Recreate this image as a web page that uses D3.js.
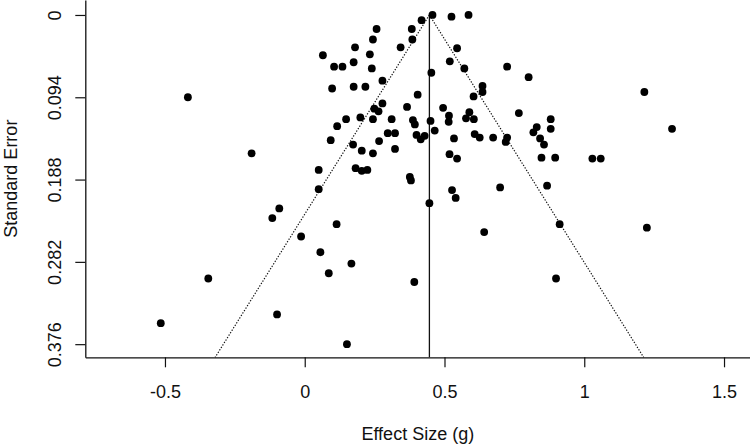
<!DOCTYPE html>
<html>
<head>
<meta charset="utf-8">
<script src="https://cdn.jsdelivr.net/npm/d3@7"></script>
<style>
  html, body { margin: 0; padding: 0; background: #fff; }
  svg { display: block; }
  text { font-family: "Liberation Sans", Arial, Helvetica, sans-serif; fill: #111; }
</style>
</head>
<body>
<svg id="chart" width="750" height="447"></svg>
<script>
// ---- data ----
const effectSize = [
  -0.418, -0.190, 0.457, 0.525, 0.586, 0.418, 0.257, 0.383, 0.244, 0.385,
  0.180, 0.343, 0.545, 0.065, 0.233, 0.175, 0.519, 0.105, 0.135, 0.240,
  0.571, 0.724, 0.453, 0.801, 0.278, 0.098, 0.175, 0.217, 0.636, 0.636,
  0.604, 0.404, 0.278, 0.249, 0.264, 0.366, 0.495, 0.766, 0.589, 0.516,
  0.148, 0.199, 0.244, 0.311, 0.387, 0.577, 0.605, 0.515, 0.450, 0.394,
  0.116, 0.465, 0.297, 0.323, 0.400, 0.429, 0.415, 0.093, 0.266, 0.534,
  0.608, 0.626, 0.674, 0.724, 0.719, 0.173, 0.204, 0.323, 0.244, 0.518,
  0.545, 0.050, 0.182, 0.204, 0.224, 0.376, 0.380,
  1.215, 0.880, 0.830, 0.818, 0.880, 1.314, 0.842, 0.856, 0.847, 0.896,
  1.029, 1.059,
  0.699, 0.867, -0.091, -0.116, -0.013, -0.345, -0.099, -0.515, 0.050, 0.527,
  0.540, 0.446, 0.114, 0.642, 0.056, 0.167, 0.086, 0.392, 0.151, 0.912,
  1.224, 0.899
];
const standardError = [
  0.094, 0.158, 0.000, 0.002, 0.000, 0.006, 0.016, 0.016, 0.028, 0.028,
  0.037, 0.037, 0.038, 0.046, 0.045, 0.054, 0.053, 0.059, 0.059, 0.061,
  0.061, 0.059, 0.066, 0.071, 0.075, 0.084, 0.082, 0.082, 0.081, 0.088,
  0.093, 0.091, 0.101, 0.107, 0.110, 0.105, 0.106, 0.112, 0.111, 0.115,
  0.119, 0.117, 0.119, 0.119, 0.120, 0.118, 0.119, 0.122, 0.121, 0.125,
  0.127, 0.132, 0.135, 0.135, 0.137, 0.138, 0.142, 0.143, 0.144, 0.141,
  0.136, 0.140, 0.140, 0.140, 0.145, 0.148, 0.155, 0.153, 0.158, 0.159,
  0.164, 0.177, 0.175, 0.178, 0.177, 0.185, 0.189,
  0.088, 0.119, 0.128, 0.134, 0.130, 0.130, 0.141, 0.148, 0.163, 0.163,
  0.164, 0.164,
  0.197, 0.195, 0.221, 0.232, 0.253, 0.301, 0.342, 0.352, 0.199, 0.200,
  0.209, 0.215, 0.239, 0.248, 0.271, 0.284, 0.295, 0.305, 0.376, 0.239,
  0.243, 0.301
];
const pooledEffect = 0.446;      // vertical reference line
const funnelMaxSE = 0.391;       // funnel drawn down to the bottom of the axis
const zCrit = 1.96;

const xTickValues = [-0.5, 0, 0.5, 1, 1.5];
const xTickLabels = ["-0.5", "0", "0.5", "1", "1.5"];
const yTickValues = [0, 0.094, 0.188, 0.282, 0.376];
const yTickLabels = ["0", "0.094", "0.188", "0.282", "0.376"];
const xDomain = [-0.785, 1.594];
const yDomain = [-0.0171, 0.391];
const xTitle = "Effect Size (g)";
const yTitle = "Standard Error";

// ---- drawing ----
const svg = d3.select("#chart");
const plotLeft = 85.3, plotRight = 750.3, plotTop = 0, plotBottom = 357.3;

const x = d3.scaleLinear().domain(xDomain).range([plotLeft, plotRight]);
const y = d3.scaleLinear().domain(yDomain).range([plotTop, plotBottom]);

const points = effectSize.map((e, i) => ({ e, se: standardError[i] }));

// funnel (dotted) lines
const funnel = [
  [[pooledEffect, 0], [pooledEffect - zCrit * funnelMaxSE, funnelMaxSE]],
  [[pooledEffect, 0], [pooledEffect + zCrit * funnelMaxSE, funnelMaxSE]]
];
const line = d3.line().x(d => x(d[0])).y(d => y(d[1]));
svg.append("g").selectAll("path").data(funnel).join("path")
  .attr("d", line)
  .attr("fill", "none")
  .attr("stroke", "#111")
  .attr("stroke-width", 1.2)
  .attr("stroke-dasharray", "1.3,1.6");

// vertical pooled-effect line
svg.append("path")
  .attr("d", line([[pooledEffect, 0], [pooledEffect, yDomain[1]]]))
  .attr("stroke", "#111")
  .attr("stroke-width", 1.3)
  .attr("fill", "none");

// points
svg.append("g").selectAll("circle").data(points).join("circle")
  .attr("cx", d => x(d.e))
  .attr("cy", d => y(d.se))
  .attr("r", 3.9)
  .attr("fill", "#000");

// x axis
const xAxis = d3.axisBottom(x)
  .tickValues(xTickValues)
  .tickFormat((d, i) => xTickLabels[i])
  .tickSizeInner(10)
  .tickSizeOuter(0);
const gx = svg.append("g").attr("transform", `translate(0,${plotBottom})`).call(xAxis);
gx.select(".domain").attr("stroke", "#111").attr("stroke-width", 1.3);
gx.selectAll(".tick line").attr("stroke", "#111").attr("stroke-width", 1.2);
gx.selectAll(".tick text")
  .attr("y", 40.3).attr("dy", null)
  .attr("font-size", 18)
  .attr("font-family", "'Liberation Sans', Arial, sans-serif")
  .attr("fill", "#111");

// y axis
const yAxis = d3.axisLeft(y)
  .tickValues(yTickValues)
  .tickFormat((d, i) => yTickLabels[i])
  .tickSizeInner(10)
  .tickSizeOuter(0);
const gy = svg.append("g").attr("transform", `translate(${plotLeft},0)`).call(yAxis);
gy.select(".domain").attr("stroke", "#111").attr("stroke-width", 1.3);
gy.selectAll(".tick line").attr("stroke", "#111").attr("stroke-width", 1.2);
gy.selectAll(".tick text")
  .attr("x", null).attr("dy", null)
  .attr("transform", "translate(-24.8,0) rotate(-90)")
  .attr("text-anchor", "middle")
  .attr("font-size", 18)
  .attr("font-family", "'Liberation Sans', Arial, sans-serif")
  .attr("fill", "#111");

// axis titles
svg.append("text")
  .attr("x", (plotLeft + plotRight) / 2)
  .attr("y", 440)
  .attr("text-anchor", "middle")
  .attr("font-size", 18)
  .text(xTitle);

svg.append("text")
  .attr("transform", `translate(16.5,${(plotTop + plotBottom) / 2}) rotate(-90)`)
  .attr("text-anchor", "middle")
  .attr("font-size", 18)
  .text(yTitle);
</script>
</body>
</html>
